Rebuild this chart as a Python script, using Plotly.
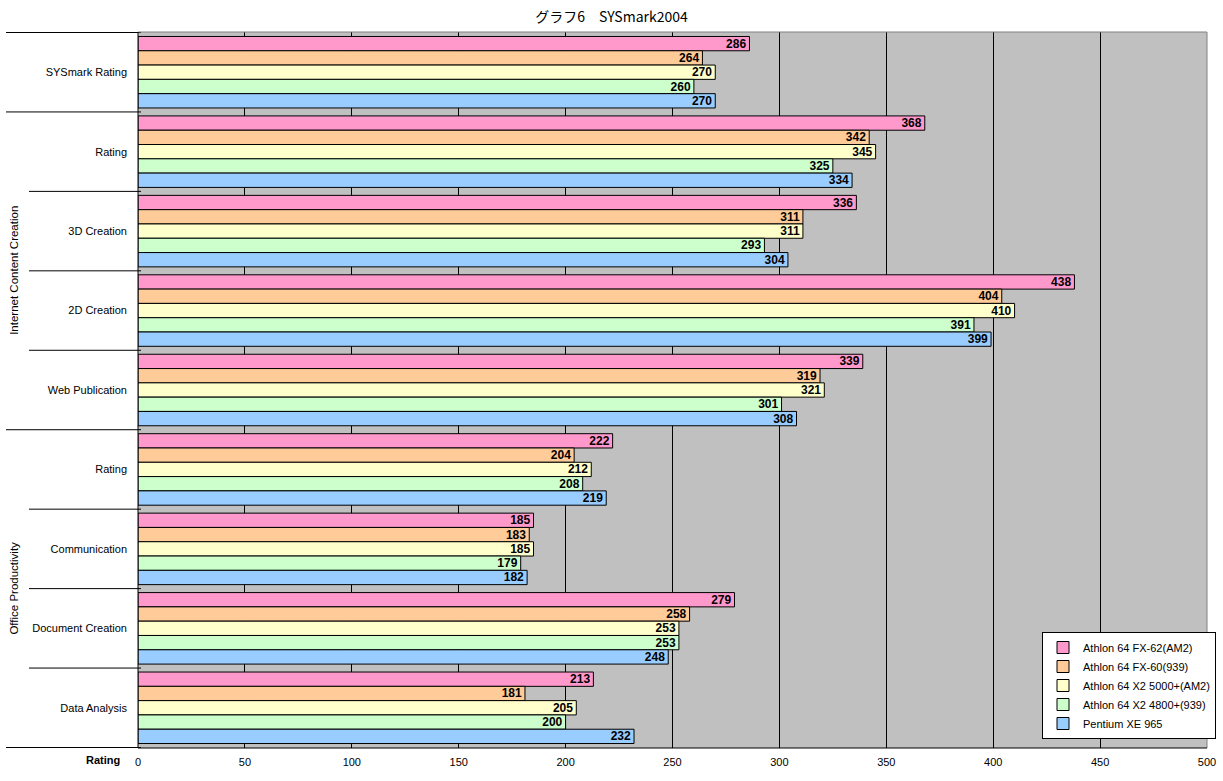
import plotly.graph_objects as go

# ---- data ----
groups = ["", "Internet Content Creation", "Internet Content Creation", "Internet Content Creation",
          "Internet Content Creation", "Office Productivity", "Office Productivity",
          "Office Productivity", "Office Productivity"]
subcats = ["SYSmark Rating", "Rating", "3D Creation", "2D Creation", "Web Publication",
           "Rating", "Communication", "Document Creation", "Data Analysis"]
series_names = ["Athlon 64 FX-62(AM2)", "Athlon 64 FX-60(939)", "Athlon 64 X2 5000+(AM2)",
                "Athlon 64 X2 4800+(939)", "Pentium XE 965"]
fx62 = [286, 368, 336, 438, 339, 222, 185, 279, 213]
fx60 = [264, 342, 311, 404, 319, 204, 183, 258, 181]
x2_5000 = [270, 345, 311, 410, 321, 212, 185, 253, 205]
x2_4800 = [260, 325, 293, 391, 301, 208, 179, 253, 200]
pxe965 = [270, 334, 304, 399, 308, 219, 182, 248, 232]
series_values = [fx62, fx60, x2_5000, x2_4800, pxe965]
colors = ["#FF99CC", "#FFCC99", "#FFFFCC", "#CCFFCC", "#99CCFF"]
x_ticks = [0, 50, 100, 150, 200, 250, 300, 350, 400, 450, 500]
title = "グラフ6　SYSmark2004"

keys = [f"{g}|{s}|{i}" for i, (g, s) in enumerate(zip(groups, subcats))]

FONT = "Liberation Sans, Arial, Noto Sans CJK JP, sans-serif"

fig = go.Figure()
for name, vals, col in zip(series_names, series_values, colors):
    fig.add_trace(go.Bar(
        y=keys, x=vals, name=name, orientation="h",
        marker=dict(color=col, line=dict(color="black", width=1)),
        text=[str(v) for v in vals], textposition="inside", insidetextanchor="end",
        textangle=0, constraintext="none",
        textfont=dict(family=FONT, size=12, color="black", weight="bold"),
    ))

W, H = 1223, 781
L, R, T, B = 138, 16, 32, 33
pw = W - L - R
ph = H - T - B

def px2paper(px):
    return (px - L) / pw

shapes = []
# category separators
major = [-0.5, 0.5, 4.5, 8.5]
minor = [1.5, 2.5, 3.5, 5.5, 6.5, 7.5]
for yv in major:
    shapes.append(dict(type="line", xref="paper", yref="y", x0=px2paper(6), x1=px2paper(141),
                       y0=yv, y1=yv, line=dict(color="black", width=1)))
for yv in minor:
    shapes.append(dict(type="line", xref="paper", yref="y", x0=px2paper(29), x1=px2paper(141),
                       y0=yv, y1=yv, line=dict(color="black", width=1)))
# plot border top & right (gray), bottom & left black
shapes.append(dict(type="line", xref="paper", yref="paper", x0=0, x1=1, y0=1, y1=1,
                   line=dict(color="#808080", width=1)))
shapes.append(dict(type="line", xref="paper", yref="paper", x0=1, x1=1, y0=0, y1=1,
                   line=dict(color="#808080", width=1)))
shapes.append(dict(type="line", xref="paper", yref="paper", x0=0, x1=1, y0=0, y1=0,
                   line=dict(color="black", width=1)))
shapes.append(dict(type="line", xref="paper", yref="paper", x0=0, x1=0, y0=0, y1=1,
                   line=dict(color="black", width=1)))

annotations = [
    dict(text="Internet Content Creation", xref="paper", yref="y", x=px2paper(14), y=2.5,
         xanchor="center", yanchor="middle",
         textangle=-90, showarrow=False, font=dict(family=FONT, size=11.5, color="black")),
    dict(text="Office Productivity", xref="paper", yref="y", x=px2paper(14), y=6.5,
         xanchor="center", yanchor="middle",
         textangle=-90, showarrow=False, font=dict(family=FONT, size=11.5, color="black")),
    dict(text="<b>Rating</b>", xref="paper", yref="paper", x=px2paper(103), y=-(760 - (H - B)) / ph,
         xanchor="center", yanchor="middle",
         showarrow=False, font=dict(family=FONT, size=11, color="black")),
]

fig.update_layout(
    width=W, height=H,
    margin=dict(l=L, r=R, t=T, b=B, autoexpand=False),
    paper_bgcolor="white", plot_bgcolor="#C0C0C0",
    barmode="group", bargap=0.1, bargroupgap=0,
    title=dict(text=title, x=0.5, xref="container", xanchor="center", y=1 - 17 / H, yanchor="middle",
               font=dict(family="Noto Sans CJK JP, sans-serif", size=14, color="black")),
    font=dict(family=FONT, size=11, color="black"),
    xaxis=dict(range=[0, 500], tickvals=x_ticks, showgrid=True, gridcolor="black", gridwidth=1,
               zeroline=False, showline=False, ticks="", ticklabelstandoff=6,
               tickfont=dict(family=FONT, size=11, color="black")),
    yaxis=dict(type="category", categoryorder="array", categoryarray=keys, autorange="reversed",
               tickvals=keys, ticktext=subcats, showgrid=False, zeroline=False, showline=False,
               ticks="", ticklabelstandoff=10,
               tickfont=dict(family=FONT, size=11, color="black")),
    legend=dict(xref="container", yref="container", x=1216 / W, y=1 - 739 / H,
                xanchor="right", yanchor="bottom",
                bgcolor="white", bordercolor="black", borderwidth=1, traceorder="normal",
                font=dict(family=FONT, size=11, color="black"), tracegroupgap=0,
                itemwidth=30),
    shapes=shapes, annotations=annotations,
    showlegend=True,
)

fig.write_html("out.html")
